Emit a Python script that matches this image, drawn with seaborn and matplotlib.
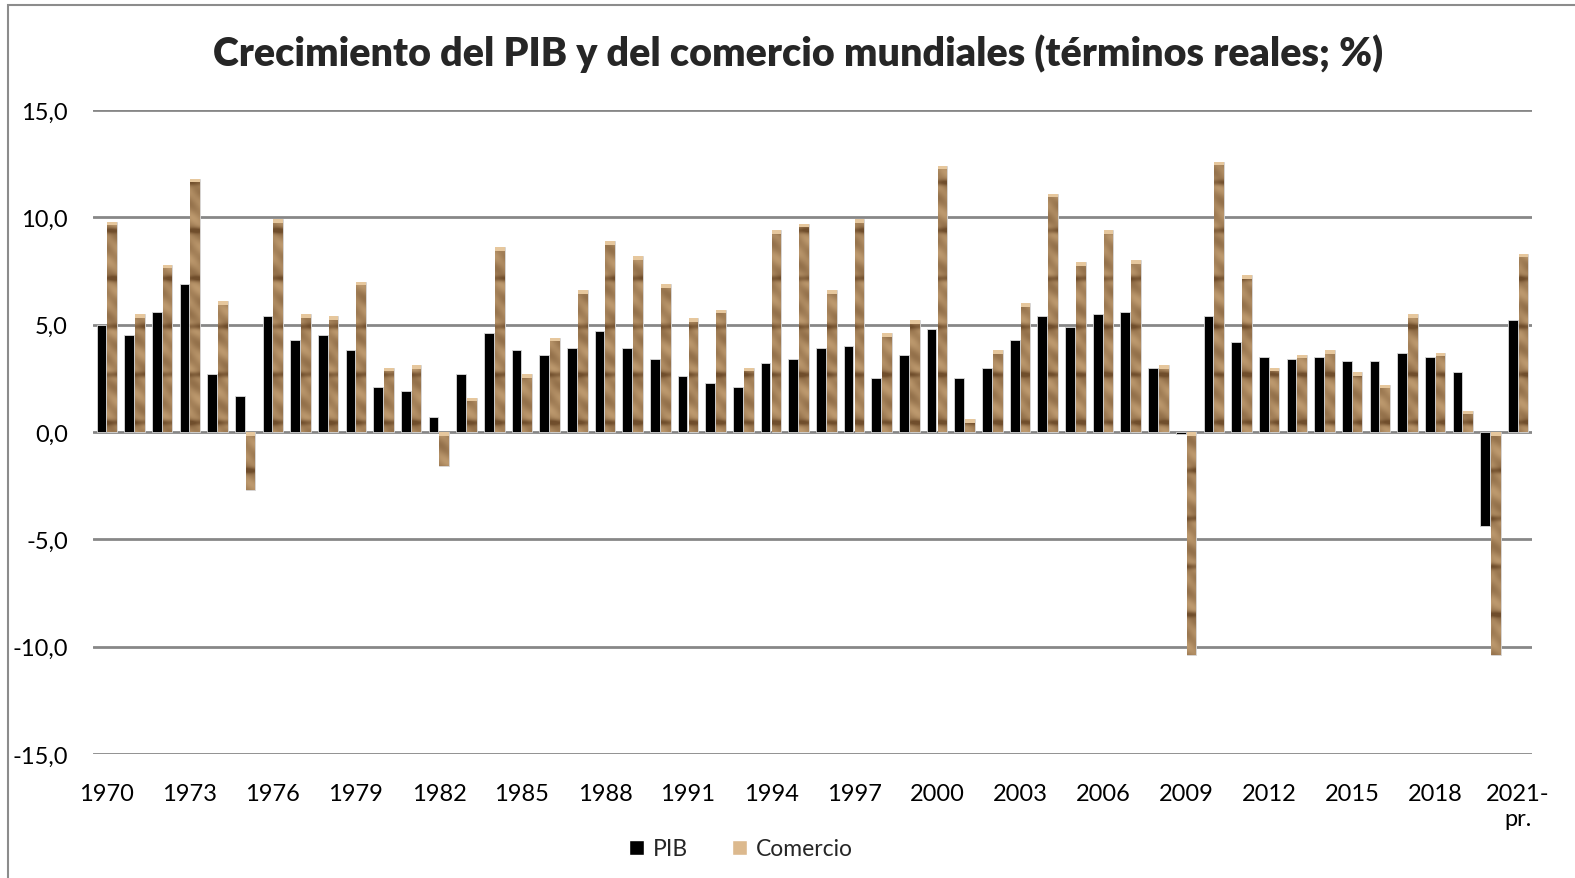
import matplotlib
matplotlib.use("Agg")
import matplotlib.pyplot as plt
import numpy as np
import pandas as pd
import seaborn as sns
from matplotlib.patches import Rectangle, PathPatch
from matplotlib.path import Path

years = list(range(1970, 2022))
pib = [5.0, 4.5, 5.6, 6.9, 2.7, 1.7, 5.4, 4.3, 4.5, 3.8,
       2.1, 1.9, 0.7, 2.7, 4.6, 3.8, 3.6, 3.9, 4.7, 3.9,
       3.4, 2.6, 2.3, 2.1, 3.2, 3.4, 3.9, 4.0, 2.5, 3.6,
       4.8, 2.5, 3.0, 4.3, 5.4, 4.9, 5.5, 5.6, 3.0, -0.1,
       5.4, 4.2, 3.5, 3.4, 3.5, 3.3, 3.3, 3.7, 3.5, 2.8,
       -4.4, 5.2]
comercio = [9.8, 5.5, 7.8, 11.8, 6.1, -2.7, 9.9, 5.5, 5.4, 7.0,
            3.0, 3.1, -1.6, 1.6, 8.6, 2.7, 4.4, 6.6, 8.9, 8.2,
            6.9, 5.3, 5.7, 3.0, 9.4, 9.7, 6.6, 9.9, 4.6, 5.2,
            12.4, 0.6, 3.8, 6.0, 11.1, 7.9, 9.4, 8.0, 3.1, -10.4,
            12.6, 7.3, 3.0, 3.6, 3.8, 2.8, 2.2, 5.5, 3.7, 1.0,
            -10.4, 8.3]
year_labels = [str(y) for y in years[:-1]] + ["2021-\npr."]
series = ["PIB", "Comercio"]
yticks = [-15, -10, -5, 0, 5, 10, 15]

df = pd.DataFrame({
    "year": year_labels * 2,
    "valor": pib + comercio,
    "serie": ["PIB"] * len(pib) + ["Comercio"] * len(comercio),
})

sns.set_theme(style="white")
plt.rcParams["font.family"] = ["Lato", "DejaVu Sans"]

fig = plt.figure(figsize=(15.75, 8.79), dpi=100)
ax = fig.add_axes([93 / 1575, 1 - 755 / 879, (1532 - 93) / 1575, (755 - 111) / 879])

sns.barplot(data=df, x="year", y="valor", hue="serie", hue_order=series,
            palette={"PIB": "black", "Comercio": "#a98459"},
            width=0.78, gap=0.1, dodge=True, legend=False, ax=ax,
            edgecolor="#d9d9d9", linewidth=0.6, zorder=2)

ax.set_xlim(-0.5, len(years) - 0.5)
ax.set_ylim(-15, 15)
ax.set_yticks(yticks)
ax.set_yticklabels([f"{v:.1f}".replace(".", ",") for v in yticks])
ax.set_xticks(range(0, len(years), 3))
ax.set_xticklabels([year_labels[i] for i in range(0, len(years), 3)])
ax.set_xlabel("")
ax.set_ylabel("")
ax.tick_params(axis="y", length=0, pad=18, labelsize=17, labelcolor="black")
ax.tick_params(axis="x", length=0, pad=21, labelsize=17, labelcolor="black")
for lab in ax.get_xticklabels():
    lab.set_multialignment("center")
ax.grid(axis="y", color="#878787", linewidth=2)
ax.set_axisbelow(True)
for s in ax.spines.values():
    s.set_visible(False)

# wood-like texture for the trade bars
com_bars = [p for p in ax.patches if isinstance(p, Rectangle)][len(pib):2 * len(pib)]
verts = []
for p in com_bars:
    x0, w = p.get_x(), p.get_width()
    y0, h = p.get_y(), p.get_height()
    lo, hi = min(y0, y0 + h), max(y0, y0 + h)
    verts.append(Path([(x0, lo), (x0 + w, lo), (x0 + w, hi), (x0, hi), (x0, lo)], closed=True))
clip = PathPatch(Path.make_compound_path(*verts), transform=ax.transData, fc="none", ec="none")
ax.add_patch(clip)

H, W = 644, 1440
yy, xx = np.mgrid[0:H, 0:W]
band = np.exp(-((np.mod(yy, 48) - 24) / 3.0) ** 2)
streak = (0.6 * np.sin(2 * np.pi * (yy - 0.9 * np.mod(xx, 28)) / 22)
          + 0.4 * np.sin(2 * np.pi * (yy + 0.5 * xx) / 37))
t = 0.55 + 0.2 * streak - 0.5 * band
t = np.clip(t, 0, 1)[..., None]
light = np.array([214, 178, 132]) / 255
dark = np.array([112, 78, 44]) / 255
tex = light * t + dark * (1 - t)
im = ax.imshow(tex, extent=(-0.5, len(years) - 0.5, -15, 15), aspect="auto",
               interpolation="bilinear", zorder=3)
im.set_clip_path(clip)
for p in com_bars:
    y0, h = p.get_y(), p.get_height()
    top = max(y0, y0 + h)
    ax.add_patch(Rectangle((p.get_x(), top - 0.17), p.get_width(), 0.17,
                           fc="#e6c79d", ec="none", zorder=4))

fig.text(0.507, 1 - 54 / 879, "Crecimiento del PIB y del comercio mundiales (términos reales; %)",
         ha="center", va="center", fontsize=28.4, fontweight="heavy")

handles = [Rectangle((0, 0), 1, 1, fc="black"), Rectangle((0, 0), 1, 1, fc="#dcb98e")]
fig.legend(handles, series, loc="center", bbox_to_anchor=(741 / 1575, 1 - 850 / 879),
           ncol=2, frameon=False, fontsize=16.5, handlelength=0.65, handleheight=0.65,
           handletextpad=0.4, columnspacing=1.9)

fig.add_artist(Rectangle((8 / 1575, -0.05), 1.1, 1 - 6 / 879 + 0.05, transform=fig.transFigure,
                         fill=False, ec="#8c8c8c", lw=1.5))

fig.savefig("out.png", dpi=100)
